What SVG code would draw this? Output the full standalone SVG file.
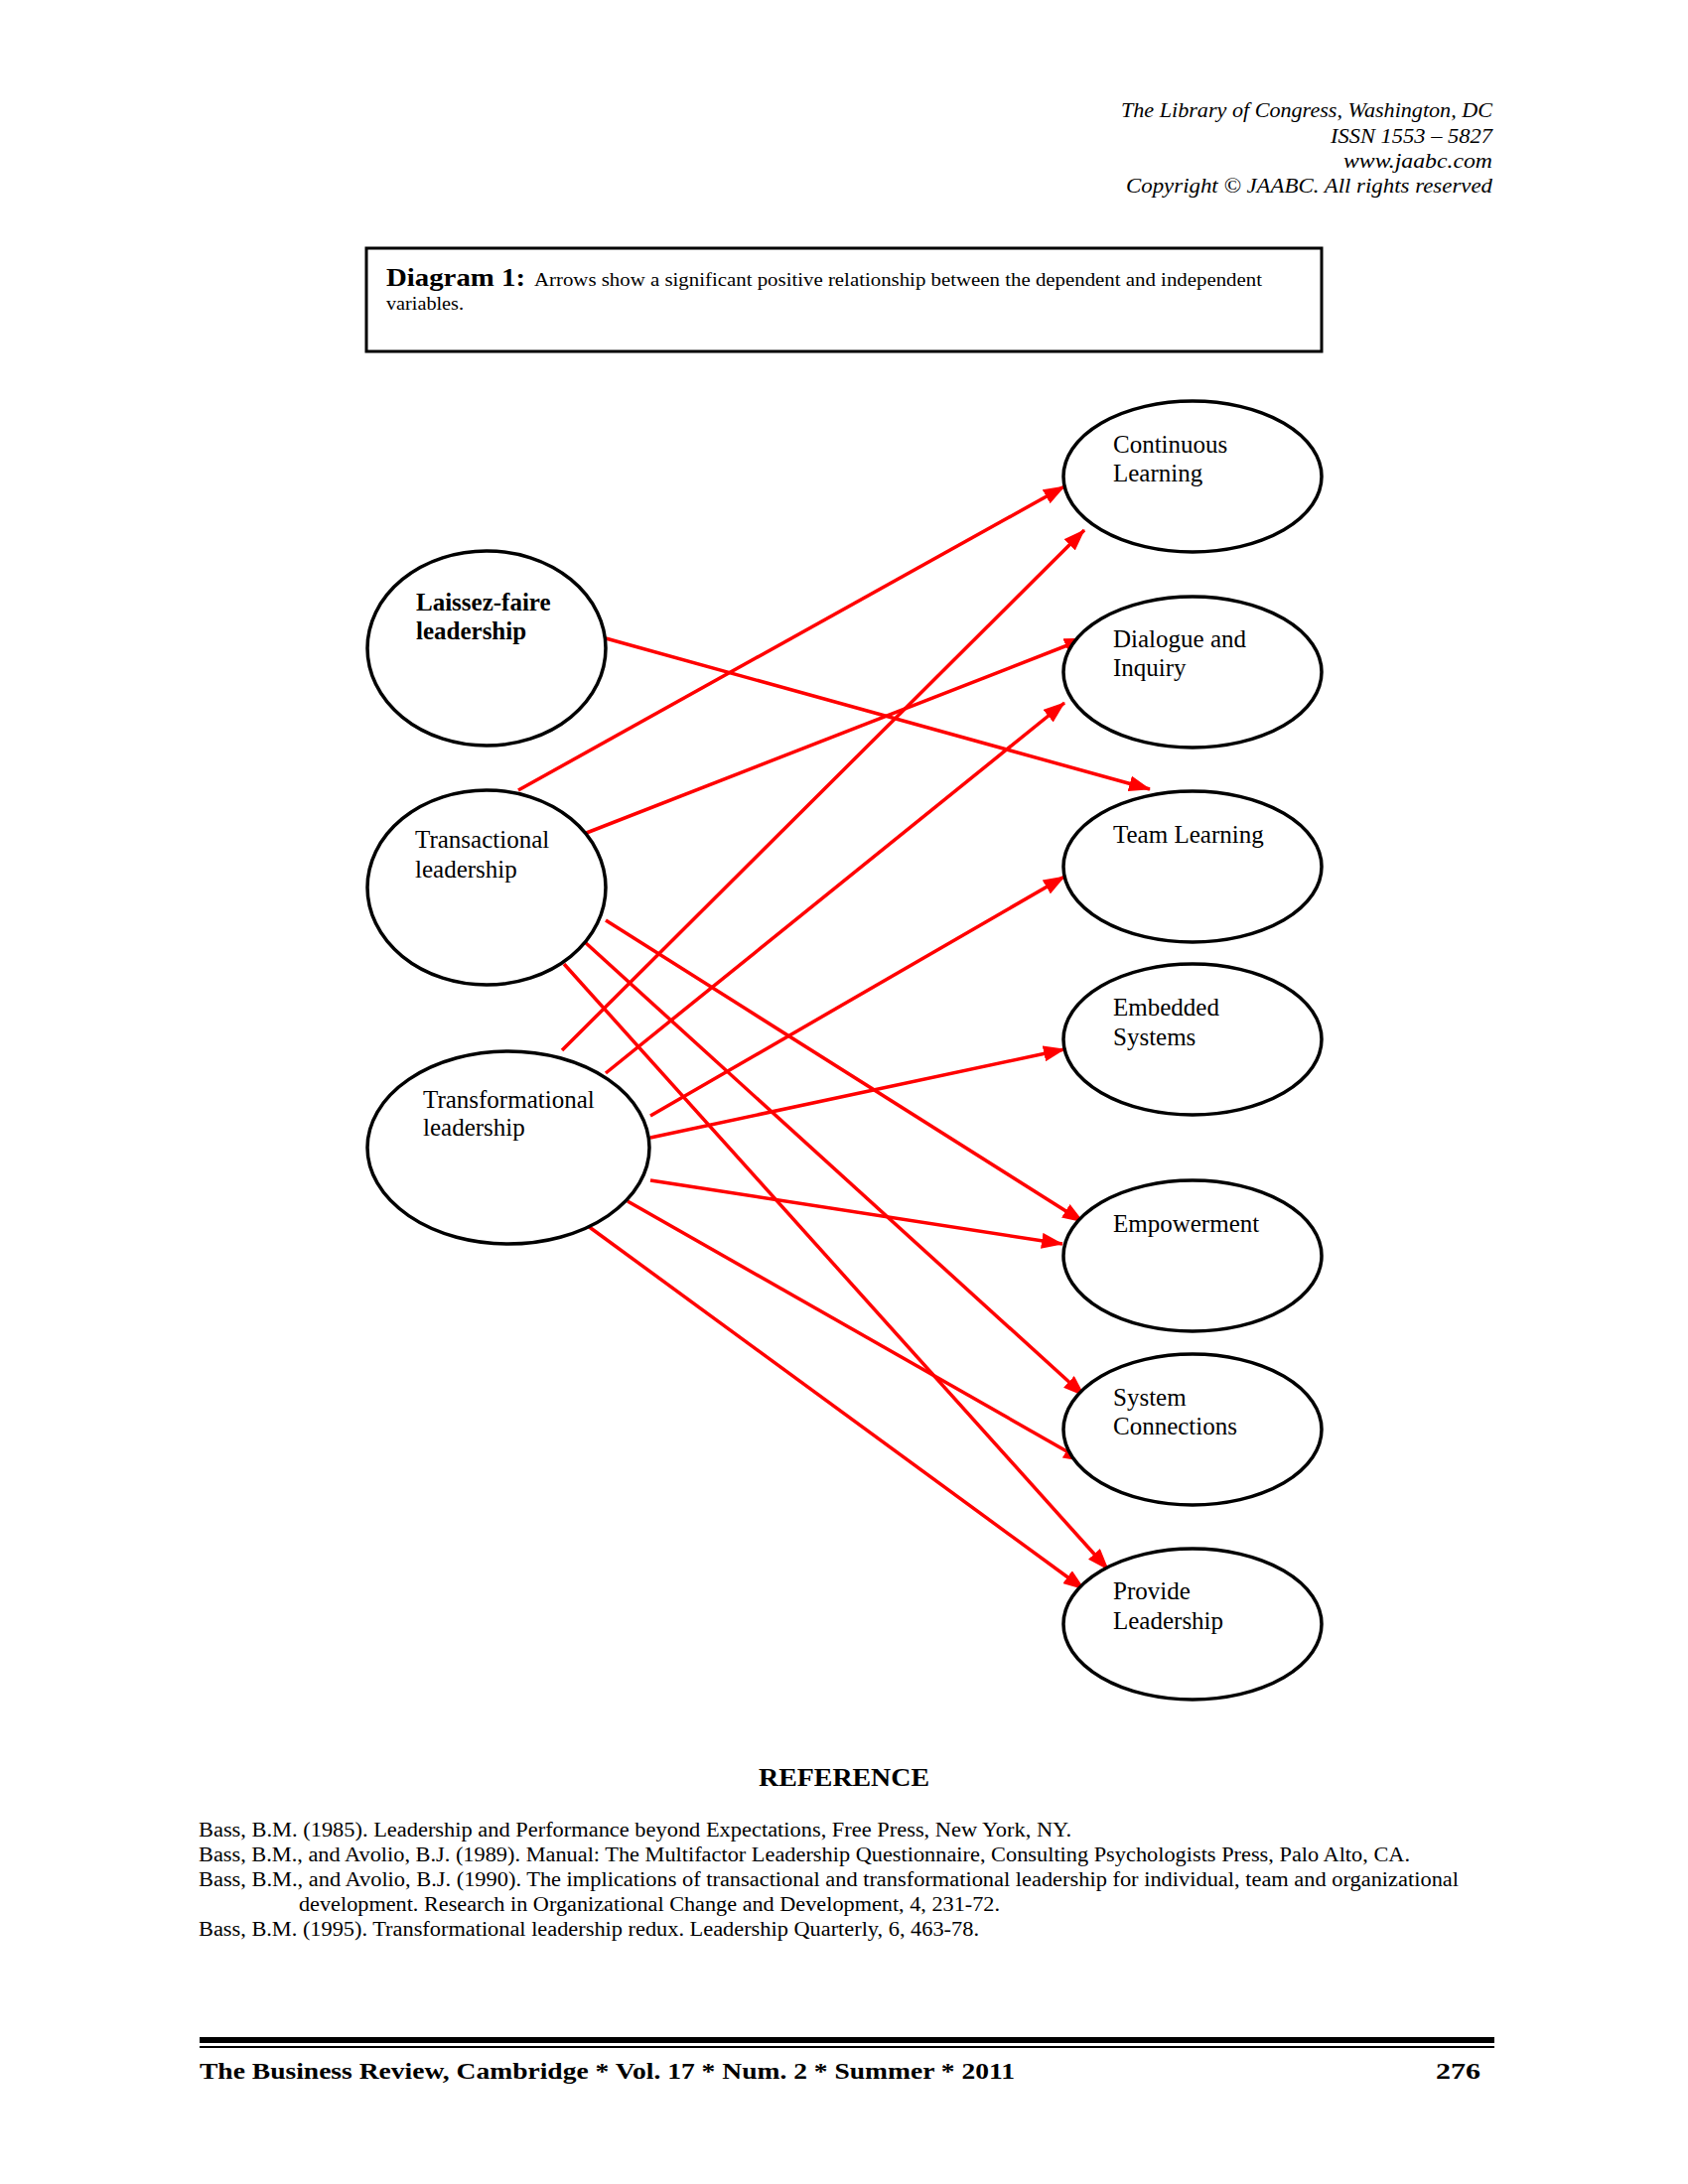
<svg xmlns="http://www.w3.org/2000/svg" width="1700" height="2200" viewBox="0 0 1700 2200">
<style>
.hdr{font-family:"Liberation Serif",serif;font-style:italic;font-size:20.5px;fill:#000;text-anchor:end}
.node ellipse{fill:#fff;stroke:#000;stroke-width:3.5}
.lbl{font-family:"Liberation Serif",serif;font-size:25px;fill:#000}
.lblb{font-family:"Liberation Serif",serif;font-size:25px;font-weight:bold;fill:#000}
.conn line{stroke:#f00;stroke-width:3.5;marker-end:url(#ah)}
.ref{font-family:"Liberation Serif",serif;font-size:20px;fill:#000}
.foot{font-family:"Liberation Serif",serif;font-weight:bold;font-size:23px;fill:#000}
</style>
<defs>
<marker id="ah" markerUnits="userSpaceOnUse" markerWidth="22" markerHeight="16" refX="21" refY="8" orient="auto">
<path d="M0,0 L22,8 L0,16 Z" fill="#f00"/>
</marker>
</defs>
<rect width="1700" height="2200" fill="#fff"/>
<g id="header">
<text class="hdr" x="1503" y="118" textLength="374" lengthAdjust="spacingAndGlyphs">The Library of Congress, Washington, DC</text>
<text class="hdr" x="1503" y="144" textLength="163" lengthAdjust="spacingAndGlyphs">ISSN 1553 – 5827</text>
<text class="hdr" x="1503" y="169" textLength="150" lengthAdjust="spacingAndGlyphs">www.jaabc.com</text>
<text class="hdr" x="1503" y="194" textLength="369" lengthAdjust="spacingAndGlyphs">Copyright ©  JAABC. All rights reserved</text>
</g>
<g id="caption">
<rect x="369" y="250" width="962" height="104" fill="none" stroke="#000" stroke-width="3"/>
<text x="389" y="288" font-family="Liberation Serif, serif" font-weight="bold" font-size="26" textLength="140" lengthAdjust="spacingAndGlyphs">Diagram 1:</text>
<text x="538" y="288" font-family="Liberation Serif, serif" font-size="19" textLength="733" lengthAdjust="spacingAndGlyphs">Arrows show a significant positive relationship between the dependent and independent</text>
<text x="389" y="312" font-family="Liberation Serif, serif" font-size="19" textLength="78" lengthAdjust="spacingAndGlyphs">variables.</text>
</g>
<g class="conn" id="connectors">
<line x1="522" y1="796" x2="1072" y2="490"/>
<line x1="566" y1="1058" x2="1092" y2="534"/>
<line x1="610" y1="643" x2="1158" y2="795"/>
<line x1="588" y1="840" x2="1093" y2="643"/>
<line x1="610" y1="1081" x2="1072" y2="708"/>
<line x1="655" y1="1124" x2="1072" y2="883"/>
<line x1="655" y1="1146" x2="1072" y2="1057"/>
<line x1="610" y1="927" x2="1091" y2="1231"/>
<line x1="655" y1="1189" x2="1070" y2="1253"/>
<line x1="589" y1="949" x2="1092" y2="1406"/>
<line x1="568" y1="971" x2="1116" y2="1581"/>
<line x1="632" y1="1210" x2="1092" y2="1472"/>
<line x1="588" y1="1232" x2="1092" y2="1601"/>
</g>
<g class="node" id="laissez-faire">
<ellipse cx="490" cy="653" rx="120" ry="98"/>
<text class="lblb" x="419" y="615">Laissez-faire</text>
<text class="lblb" x="419" y="644">leadership</text>
</g>
<g class="node" id="transactional">
<ellipse cx="490" cy="894" rx="120" ry="98"/>
<text class="lbl" x="418" y="854">Transactional</text>
<text class="lbl" x="418" y="884">leadership</text>
</g>
<g class="node" id="transformational">
<ellipse cx="512" cy="1156" rx="142" ry="97"/>
<text class="lbl" x="426" y="1116">Transformational</text>
<text class="lbl" x="426" y="1144">leadership</text>
</g>
<g class="node" id="continuous-learning">
<ellipse cx="1201" cy="480" rx="130" ry="76"/>
<text class="lbl" x="1121" y="456">Continuous</text>
<text class="lbl" x="1121" y="485">Learning</text>
</g>
<g class="node" id="dialogue-inquiry">
<ellipse cx="1201" cy="677" rx="130" ry="76"/>
<text class="lbl" x="1121" y="652">Dialogue and</text>
<text class="lbl" x="1121" y="681">Inquiry</text>
</g>
<g class="node" id="team-learning">
<ellipse cx="1201" cy="873" rx="130" ry="76"/>
<text class="lbl" x="1121" y="849">Team Learning</text>
</g>
<g class="node" id="embedded-systems">
<ellipse cx="1201" cy="1047" rx="130" ry="76"/>
<text class="lbl" x="1121" y="1023">Embedded</text>
<text class="lbl" x="1121" y="1053">Systems</text>
</g>
<g class="node" id="empowerment">
<ellipse cx="1201" cy="1265" rx="130" ry="76"/>
<text class="lbl" x="1121" y="1241">Empowerment</text>
</g>
<g class="node" id="system-connections">
<ellipse cx="1201" cy="1440" rx="130" ry="76"/>
<text class="lbl" x="1121" y="1416">System</text>
<text class="lbl" x="1121" y="1445">Connections</text>
</g>
<g class="node" id="provide-leadership">
<ellipse cx="1201" cy="1636" rx="130" ry="76"/>
<text class="lbl" x="1121" y="1611">Provide</text>
<text class="lbl" x="1121" y="1641">Leadership</text>
</g>
<g id="references">
<text x="850" y="1799" text-anchor="middle" font-family="Liberation Serif, serif" font-weight="bold" font-size="25" textLength="172" lengthAdjust="spacingAndGlyphs">REFERENCE</text>
<text class="ref" x="200" y="1850" textLength="879" lengthAdjust="spacingAndGlyphs">Bass, B.M. (1985). Leadership and Performance beyond Expectations, Free Press, New York, NY.</text>
<text class="ref" x="200" y="1875" textLength="1220" lengthAdjust="spacingAndGlyphs">Bass, B.M., and Avolio, B.J. (1989). Manual: The Multifactor Leadership Questionnaire, Consulting Psychologists Press, Palo Alto, CA.</text>
<text class="ref" x="200" y="1900" textLength="1269" lengthAdjust="spacingAndGlyphs">Bass, B.M., and Avolio, B.J. (1990). The implications of transactional and transformational leadership for individual, team and  organizational</text>
<text class="ref" x="301" y="1925" textLength="706" lengthAdjust="spacingAndGlyphs">development. Research in Organizational Change and Development, 4, 231-72.</text>
<text class="ref" x="200" y="1950" textLength="786" lengthAdjust="spacingAndGlyphs">Bass, B.M. (1995). Transformational leadership redux. Leadership Quarterly, 6, 463-78.</text>
</g>
<g id="footer">
<rect x="201" y="2052" width="1304" height="6" fill="#000"/>
<rect x="201" y="2061" width="1304" height="2" fill="#000"/>
<text class="foot" x="201" y="2094" textLength="821" lengthAdjust="spacingAndGlyphs">The Business Review, Cambridge  *  Vol. 17  *  Num. 2  *  Summer  *  2011</text>
<text class="foot" x="1491" y="2094" text-anchor="end" textLength="45" lengthAdjust="spacingAndGlyphs">276</text>
</g>
</svg>
